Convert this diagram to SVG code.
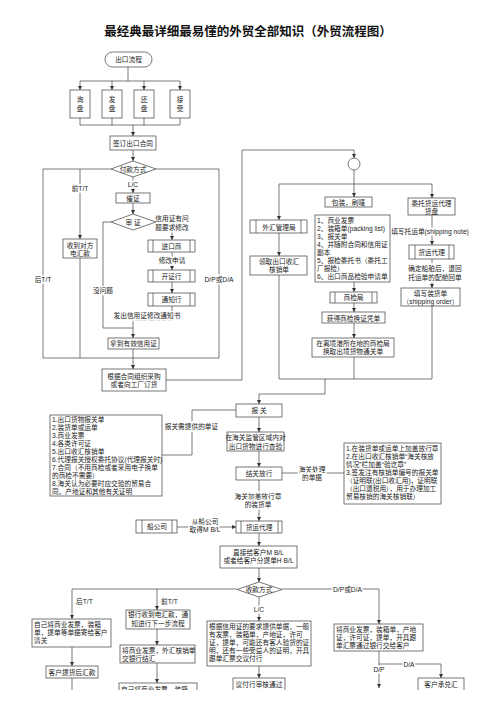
<svg xmlns="http://www.w3.org/2000/svg" width="504" height="713" viewBox="0 0 504 713">
<style>
.b{fill:#fff;stroke:#555;stroke-width:0.8}
.l{fill:none;stroke:#444;stroke-width:0.7}
.a{fill:none;stroke:#444;stroke-width:0.7;marker-end:url(#ar)}
text{font-family:"Liberation Sans","Noto Sans CJK SC","Noto Sans CJK JP",sans-serif;font-size:6.7px;fill:#222}
.c{text-anchor:middle}
.lb{stroke:#fff;stroke-width:3;paint-order:stroke}
.ti{font-size:12.5px;font-weight:bold;fill:#111}
</style>
<defs>
<marker id="ar" viewBox="0 0 6 6" refX="6" refY="3" markerWidth="4" markerHeight="4" markerUnits="userSpaceOnUse" orient="auto"><path d="M0,0L6,3L0,6z" fill="#333"/></marker>
<clipPath id="cp"><rect x="0" y="0" width="504" height="690"/></clipPath>
</defs>
<rect width="504" height="713" fill="#fff"/>
<text class="ti c" x="248" y="36">最经典最详细最易懂的外贸全部知识（外贸流程图）</text>
<g clip-path="url(#cp)">
<g id="connectors">
<path class="l" d="M128,67V81M80,81H180"/>
<path class="a" d="M80,81V90"/><path class="a" d="M112,81V90"/><path class="a" d="M144,81V90"/><path class="a" d="M180,81V90"/>
<path class="l" d="M80,118V125M112,118V125M144,118V125M180,118V125M80,125H180"/>
<path class="a" d="M133,125V136"/>
<path class="a" d="M133,150V161"/>
<path class="l" d="M111,169H43V358"/>
<path class="a" d="M80,169V239"/>
<path class="l" d="M156,169H219V358"/>
<path class="a" d="M133,177V193"/>
<path class="a" d="M133,203V214"/>
<path class="a" d="M156,222H172V240"/>
<path class="a" d="M172,252V270"/>
<path class="a" d="M172,282V293"/>
<path class="l" d="M172,306V320H133"/>
<path class="l" d="M111,222H103V328H133"/>
<path class="a" d="M133,320V338"/>
<path class="l" d="M133,349V358M43,358H219M80,258V358"/>
<path class="a" d="M133,358V369"/>
<path class="a" d="M166,380H242V150H354V158"/>
<path class="l" d="M354,170V184M279,184H432"/>
<path class="a" d="M279,184V220"/><path class="a" d="M354,184V197"/><path class="a" d="M432,184V198"/>
<path class="a" d="M279,233V256"/>
<path class="l" d="M279,275V379"/>
<path class="a" d="M354,282V292"/>
<path class="a" d="M354,303V312"/>
<path class="a" d="M354,323V338"/>
<path class="l" d="M354,357V379"/>
<path class="a" d="M432,215V245"/>
<path class="a" d="M432,259V288"/>
<path class="l" d="M432,306V379M279,379H432"/>
<path class="a" d="M325,379V394H259V404"/>
<path class="l" d="M236,410H192V455H162"/>
<path class="a" d="M259,417V432"/>
<path class="a" d="M259,451V467"/>
<path class="l" d="M282,473H344"/>
<path class="a" d="M259,480V521"/>
<path class="a" d="M177,527H236"/>
<path class="a" d="M259,533V546"/>
<path class="a" d="M259,568V582"/>
<path class="a" d="M237,589H72V619"/>
<path class="a" d="M157,589V610"/>
<path class="a" d="M282,589H379V624"/>
<path class="a" d="M259,597V621"/>
<path class="a" d="M72,647V666"/>
<path class="l" d="M72,678V690"/>
<path class="a" d="M157,629V645"/>
<path class="a" d="M157,663V683"/>
<path class="a" d="M259,666V678"/>
<path class="a" d="M379,651V664H441V678"/>
<path class="a" d="M379,664V688"/>
<text class="c lb" x="80" y="191">前T/T</text>
<text class="c lb" x="43" y="282">后T/T</text>
<text class="c lb" x="219" y="282">D/P或D/A</text>
<text class="c lb" x="133" y="187">L/C</text>
<text class="c lb"><tspan x="172" y="221">信用证有问</tspan><tspan x="172" y="229.5">题要求修改</tspan></text>
<text class="c lb" x="172" y="262.5">修改申请</text>
<text class="c lb" x="147" y="318">发出信用证修改通知书</text>
<text class="c lb" x="103" y="293">没问题</text>
<text class="c lb" x="430" y="233.5">填写托运单(shipping note)</text>
<text class="c lb"><tspan x="435" y="270.5">确定船舶后，退回</tspan><tspan x="435" y="279.5">托运单的配舱回单</tspan></text>
<text class="c lb" x="191.5" y="428.5">报关需提供的单证</text>
<text class="c lb"><tspan x="312" y="471.5">海关处理</tspan><tspan x="312" y="480">的单据</tspan></text>
<text class="c lb"><tspan x="258" y="498.5">海关加盖放行章</tspan><tspan x="258" y="507">的装货单</tspan></text>
<text class="c lb"><tspan x="205" y="524">从船公司</tspan><tspan x="205" y="532">取得M B/L</tspan></text>
<text class="lb" x="76" y="604">后T/T</text>
<text class="lb" x="161" y="604">前T/T</text>
<text class="c lb" x="347.5" y="591.5">D/P或D/A</text>
<text class="c lb" x="259" y="611.5">L/C</text>
<text class="c lb" x="409" y="666.5">D/A</text>
<text class="c lb" x="379" y="671.5">D/P</text>
</g>
<g id="n-start"><rect class="b" x="105" y="52" width="47" height="15" rx="7.5"/><text class="c" x="128.5" y="62">出口流程</text></g>
<g id="n-xunpan"><rect class="b" x="70" y="90" width="20" height="28"/><text class="c"><tspan x="80" y="102">询</tspan><tspan x="80" y="111">盘</tspan></text></g>
<g id="n-fapan"><rect class="b" x="102" y="90" width="20" height="28"/><text class="c"><tspan x="112" y="102">发</tspan><tspan x="112" y="111">盘</tspan></text></g>
<g id="n-huanpan"><rect class="b" x="134" y="90" width="20" height="28"/><text class="c"><tspan x="144" y="102">还</tspan><tspan x="144" y="111">盘</tspan></text></g>
<g id="n-jieshou"><rect class="b" x="170" y="90" width="20" height="28"/><text class="c"><tspan x="180" y="102">接</tspan><tspan x="180" y="111">受</tspan></text></g>
<g id="n-contract"><rect class="b" x="110" y="136" width="46" height="14"/><text class="c" x="133" y="145.5">签订出口合同</text></g>
<g id="n-pay"><path class="b" d="M133,161L156,169L133,177L111,169Z"/><text class="c" x="133" y="171.5">付款方式</text></g>
<g id="n-cuizheng"><rect class="b" x="116" y="193" width="34" height="10"/><text class="c" x="133" y="200.5">催证</text></g>
<g id="n-shenzheng"><path class="b" d="M133,214L156,222L133,230L111,222Z"/><text class="c" x="133" y="224.5">审 证</text></g>
<g id="n-importer"><rect class="b" x="148" y="240" width="47" height="12"/><path class="l" d="M153,240V252M190,240V252"/><text class="c" x="171.5" y="248.5">进口商</text></g>
<g id="n-issuing"><rect class="b" x="148" y="270" width="47" height="12"/><path class="l" d="M153,270V282M190,270V282"/><text class="c" x="171.5" y="278.5">开证行</text></g>
<g id="n-advising"><rect class="b" x="148" y="293" width="47" height="13"/><path class="l" d="M153,293V306M190,293V306"/><text class="c" x="171.5" y="302">通知行</text></g>
<g id="n-tt"><rect class="b" x="63" y="239" width="34" height="19"/><text class="c"><tspan x="80" y="247.5">收到对方</tspan><tspan x="80" y="255.5">电汇款</tspan></text></g>
<g id="n-validlc"><rect class="b" x="108" y="338" width="51" height="11"/><text class="c" x="133.5" y="346">拿到有效信用证</text></g>
<g id="n-purchase"><rect class="b" x="102" y="369" width="64" height="22"/><text class="c"><tspan x="134" y="378.5">根据合同组织采购</tspan><tspan x="134" y="387">或者向工厂订货</tspan></text></g>
<g id="n-circle"><circle class="b" cx="354" cy="164" r="6"/></g>
<g id="n-safe"><rect class="b" x="250" y="220" width="57" height="13"/><path class="l" d="M256,220V233M301,220V233"/><text class="c" x="279" y="229.5">外汇管理局</text></g>
<g id="n-hexiao"><rect class="b" x="250" y="256" width="57" height="19"/><text class="c"><tspan x="279" y="264">领取出口收汇</tspan><tspan x="279" y="272">核销单</tspan></text></g>
<g id="n-pack"><rect class="b" x="325" y="197" width="47" height="10"/><text class="c" x="348.5" y="204.5">包装，刷唛</text></g>
<g id="n-docs"><rect class="b" x="315" y="215" width="75" height="67"/>
<text><tspan x="317" y="222.5">1、商业发票</tspan><tspan x="317" y="230.5">2、装箱单(packing list)</tspan><tspan x="317" y="238.5">3、报关单</tspan><tspan x="317" y="246.5">4、并随附合同和信用证</tspan><tspan x="317" y="254.5">副本</tspan><tspan x="317" y="262.5">5、报检委托书（委托工</tspan><tspan x="317" y="270.5">厂报检）</tspan><tspan x="317" y="278.5">6、出口商品检验申请单</tspan></text></g>
<g id="n-ciq"><rect class="b" x="330" y="292" width="47" height="11"/><path class="l" d="M335,292V303M372,292V303"/><text class="c" x="353.5" y="300">商检局</text></g>
<g id="n-voucher"><rect class="b" x="322" y="312" width="63" height="11"/><text class="c" x="353.5" y="320.5">获得商检换证凭单</text></g>
<g id="n-clearance"><rect class="b" x="312" y="338" width="82" height="19"/><text class="c"><tspan x="353" y="345.5">在离境港所在地的商检局</tspan><tspan x="353" y="354">换取出境货物通关单</tspan></text></g>
<g id="n-entrust"><rect class="b" x="408" y="198" width="47" height="17"/><text class="c"><tspan x="431.5" y="205.5">委托货运代理</tspan><tspan x="431.5" y="213.5">货盘</tspan></text></g>
<g id="n-forwarder"><rect class="b" x="409" y="245" width="45" height="14"/><path class="l" d="M415,245V259M449,245V259"/><text class="c" x="431.5" y="254.5">货运代理</text></g>
<g id="n-so"><rect class="b" x="401" y="288" width="59" height="18"/><text class="c"><tspan x="430.5" y="295.5">填写装货单</tspan><tspan x="430.5" y="303.5">（shipping order）</tspan></text></g>
<g id="n-customs"><rect class="b" x="236" y="404" width="46" height="13"/><text class="c" x="259" y="413">报 关</text></g>
<g id="n-cdocs"><rect class="b" x="50" y="415" width="112" height="81"/>
<text><tspan x="52" y="421.5">1.出口货物报关单</tspan><tspan x="52" y="429.5">2.装货单或运单</tspan><tspan x="52" y="437.5">3.商业发票</tspan><tspan x="52" y="445.5">4.各类许可证</tspan><tspan x="52" y="453.5">5.出口收汇核销单</tspan><tspan x="52" y="461.5">6.代理报关授权委托协议(代理报关时)</tspan><tspan x="52" y="469.5">7.合同（不用商检或者采用电子换单</tspan><tspan x="52" y="477.5">的商检不需要）</tspan><tspan x="52" y="485.5">8.海关认为必要时应交验的贸易合</tspan><tspan x="52" y="493.5">同、产地证和其他有关证明</tspan></text></g>
<g id="n-inspect"><rect class="b" x="227" y="432" width="57" height="19"/><text class="c"><tspan x="255.5" y="440">在海关监管区域内对</tspan><tspan x="255.5" y="448.5">出口货物进行查验</tspan></text></g>
<g id="n-release"><rect class="b" x="236" y="467" width="46" height="13"/><text class="c" x="259" y="476">结关放行</text></g>
<g id="n-rdocs"><rect class="b" x="344" y="443" width="97" height="61"/>
<text><tspan x="346" y="451">1.在装货单或运单上加盖放行章</tspan><tspan x="346" y="459">2.在出口收汇核销单“海关核放</tspan><tspan x="346" y="467">情况”栏加盖“验讫章”</tspan><tspan x="346" y="475">3.签发注有核销单编号的报关单</tspan><tspan x="346" y="483">（证明联(出口收汇用)，证明联</tspan><tspan x="346" y="491">（出口退税用），用于办理加工</tspan><tspan x="346" y="499">贸易核销的海关核销联）</tspan></text></g>
<g id="n-forwarder2"><rect class="b" x="236" y="521" width="46" height="12"/><path class="l" d="M241,521V533M278,521V533"/><text class="c" x="259" y="529.5">货运代理</text></g>
<g id="n-carrier"><rect class="b" x="136" y="520" width="41" height="13"/><path class="l" d="M142,520V533M172,520V533"/><text class="c" x="157" y="529">船公司</text></g>
<g id="n-bl"><rect class="b" x="220" y="546" width="77" height="22"/><text class="c"><tspan x="258.5" y="554.5">直接给客户M B/L</tspan><tspan x="258.5" y="563">或者给客户分提单H B/L</tspan></text></g>
<g id="n-collect"><path class="b" d="M259,582L282,589.5L259,597L237,589.5Z"/><text class="c" x="259" y="592">收款方式</text></g>
<g id="n-post"><rect class="b" x="32" y="619" width="79" height="28"/><text><tspan x="34" y="627">自己将商业发票，装箱</tspan><tspan x="34" y="635">单，提单等单据寄给客户</tspan><tspan x="34" y="643">清关</tspan></text></g>
<g id="n-pay2"><rect class="b" x="46" y="666" width="52" height="12"/><text class="c" x="72" y="674.5">客户提货后汇款</text></g>
<g id="n-bank"><rect class="b" x="126" y="610" width="64" height="19"/><text class="c"><tspan x="158" y="617">银行收到电汇款，通</tspan><tspan x="158" y="625.5">知进行下一步流程</tspan></text></g>
<g id="n-settle"><rect class="b" x="120" y="645" width="75" height="18"/><text><tspan x="122" y="652.5">将商业发票，外汇核销单</tspan><tspan x="122" y="660.5">交银行结汇</tspan></text></g>
<g id="n-post2"><rect class="b" x="119" y="683" width="78" height="20"/><text x="121" y="692">自己将商业发票，装箱</text></g>
<g id="n-lcdocs"><rect class="b" x="207" y="621" width="104" height="45"/>
<text><tspan x="209" y="629">根据信用证的要求提供单据，一般</tspan><tspan x="209" y="637">有发票，装箱单，产地证，许可</tspan><tspan x="209" y="645">证，提单，可能还有客人验货的证</tspan><tspan x="209" y="653">明，还有一些受益人的证明，开具</tspan><tspan x="209" y="661">跟单汇票交议付行</tspan></text></g>
<g id="n-negotiate"><rect class="b" x="233" y="678" width="52" height="20"/><text class="c" x="259" y="686.5">议付行审核通过</text></g>
<g id="n-dpda"><rect class="b" x="334" y="624" width="89" height="27"/><text><tspan x="336" y="632">将商业发票，装箱单，产地</tspan><tspan x="336" y="640">证，许可证，提单，开具跟</tspan><tspan x="336" y="648">单汇票通过银行交给客户</tspan></text></g>
<g id="n-accept"><rect class="b" x="418" y="678" width="46" height="20"/><text class="c" x="441" y="686.5">客户承兑汇</text></g>
</g>
</svg>
